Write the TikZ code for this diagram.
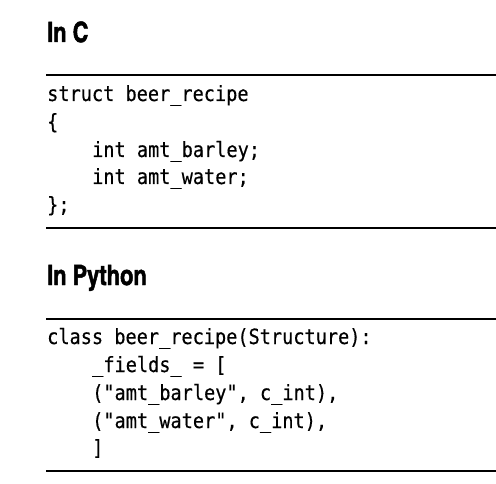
\documentclass[tikz,border=0pt]{standalone}
\usepackage{fontspec}
\setmonofont[FakeStretch=0.885,FakeBold=0.4]{DejaVu Sans Mono}
\newfontfamily\headfont[FakeBold=1.6,FakeStretch=0.95]{texgyreheroscn-bold.otf}
\begin{document}
\begin{tikzpicture}[x=1pt,y=-1pt,
  head/.style={anchor=base west,inner sep=0pt,font=\headfont\fontsize{28}{28}\selectfont},
  code/.style={anchor=base west,inner sep=0pt,font=\ttfamily\fontsize{21}{21}\selectfont},
  rule/.style={line width=2pt}]
\useasboundingbox (0,0) rectangle (496,484);

% In C
\node[head] (chead) at (47,42) {In C};
\coordinate (crulea) at (46,75);
\coordinate (cruleb) at (46,228);
\draw[rule] (crulea) -- +(450,0)
            (cruleb) -- +(450,0);
\node[code] (cl1) at (47,101) {struct beer\_recipe};
\node[code] (cl2) at (47,129) {\{};
\node[code] (cl3) at (92,157) {int amt\_barley;};
\node[code] (cl4) at (92,184) {int amt\_water;};
\node[code] (cl5) at (47,212) {\};};

% In Python
\node[head] (phead) at (47,285) {In Python};
\coordinate (prulea) at (46,319);
\coordinate (pruleb) at (46,471);
\draw[rule] (prulea) -- +(450,0)
            (pruleb) -- +(450,0);
\node[code] (pl1) at (47,344) {class beer\_recipe(Structure):};
\node[code] (pl2) at (92,372) {\_fields\_ = [};
\node[code] (pl3) at (92,400) {("amt\_barley", c\_int),};
\node[code] (pl4) at (92,428) {("amt\_water", c\_int),};
\node[code] (pl5) at (92,455) {]};
\end{tikzpicture}
\end{document}
